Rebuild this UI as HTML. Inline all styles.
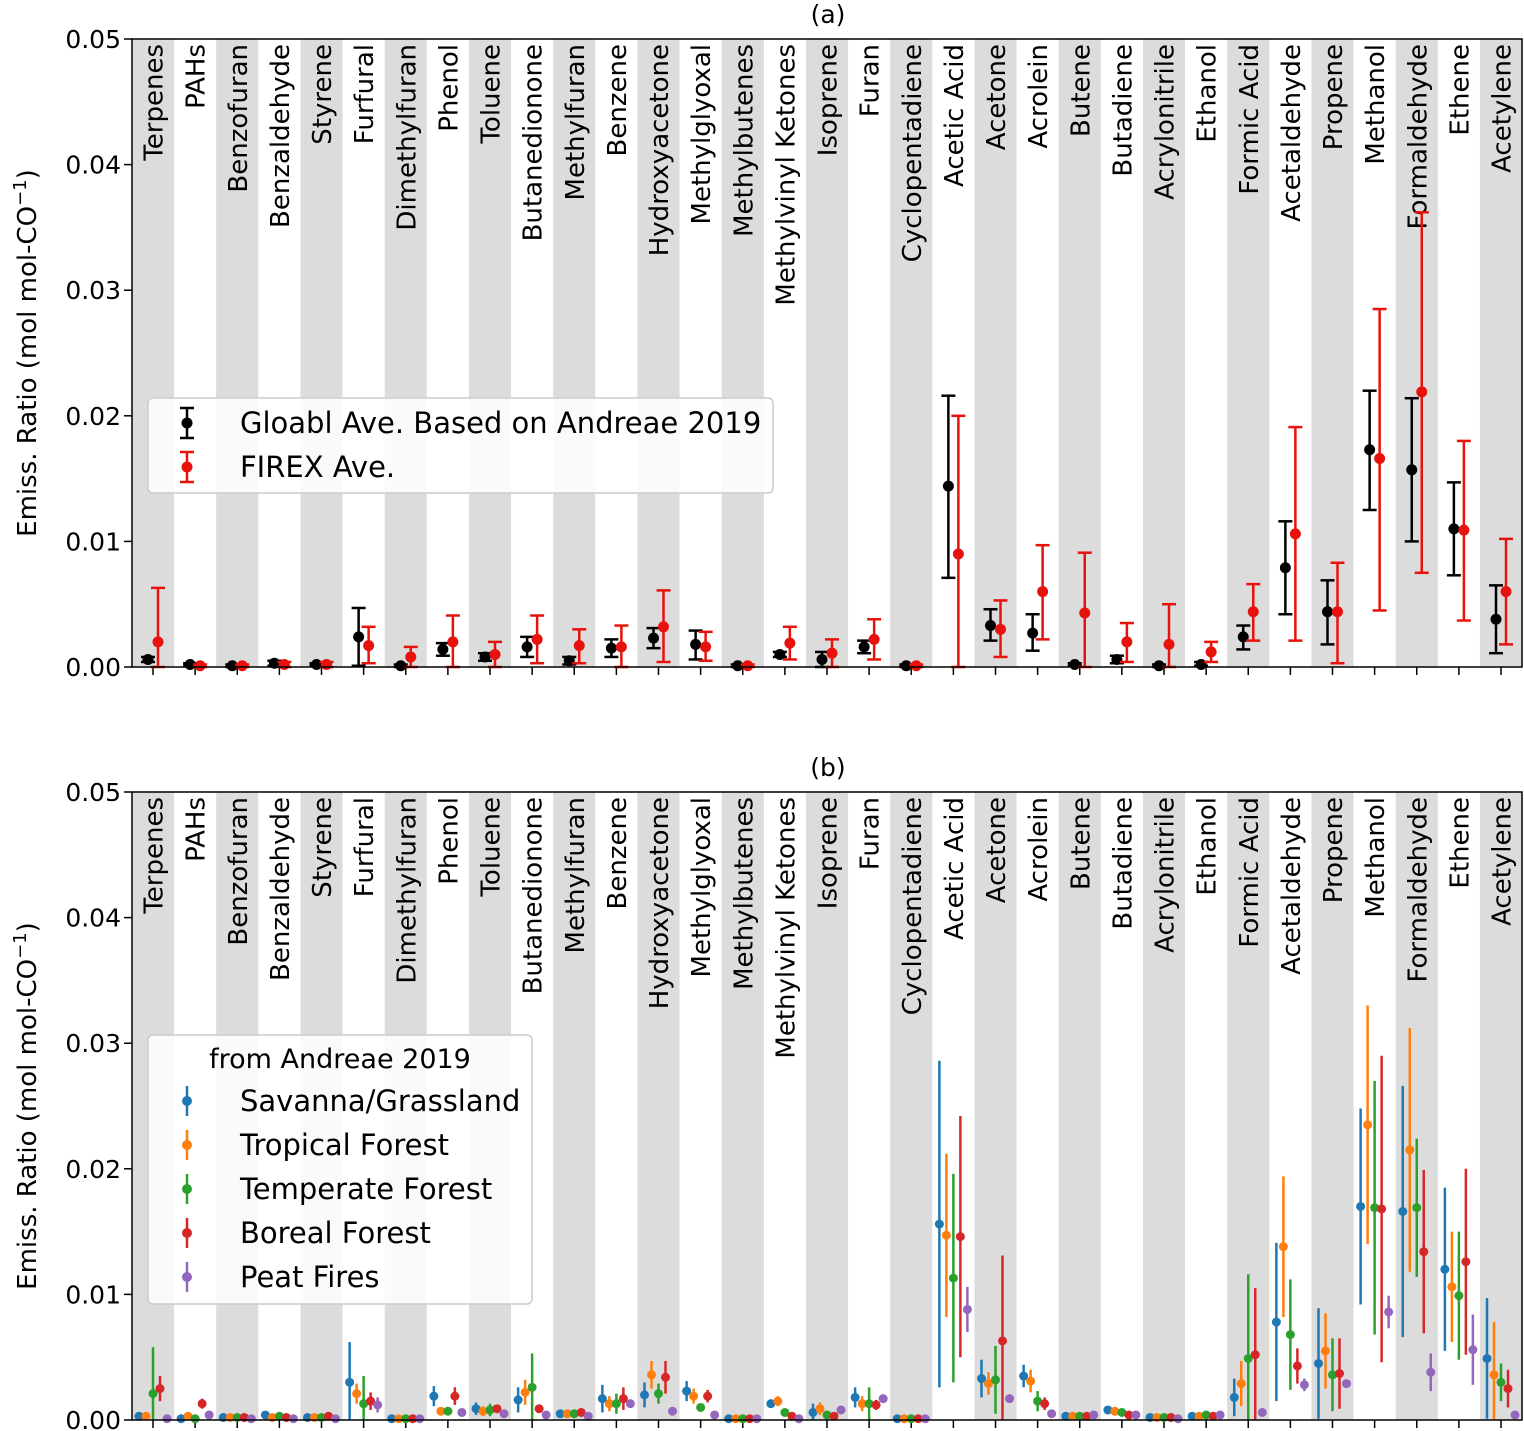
<!DOCTYPE html>
<html><head><meta charset="utf-8"><style>body{margin:0;background:#fff}svg{display:block}text{font-family:"DejaVu Sans","Liberation Sans",sans-serif;fill:#000}</style></head>
<body><svg id="s" width="1524" height="1431" xmlns="http://www.w3.org/2000/svg"></svg>
<script>
const cats=["Terpenes","PAHs","Benzofuran","Benzaldehyde","Styrene","Furfural","Dimethylfuran","Phenol","Toluene","Butanedionone","Methylfuran","Benzene","Hydroxyacetone","Methylglyoxal","Methylbutenes","Methylvinyl Ketones","Isoprene","Furan","Cyclopentadiene","Acetic Acid","Acetone","Acrolein","Butene","Butadiene","Acrylonitrile","Ethanol","Formic Acid","Acetaldehyde","Propene","Methanol","Formaldehyde","Ethene","Acetylene"];
const blk=[[0.6,0.4,0.8],[0.2,0.1,0.3],[0.1,0,0.2],[0.3,0.1,0.5],[0.2,0.1,0.3],[2.4,0.1,4.7],[0.1,0,0.2],[1.4,0.9,1.9],[0.8,0.5,1.1],[1.6,0.8,2.4],[0.5,0.2,0.8],[1.5,0.8,2.2],[2.3,1.5,3.1],[1.8,0.6,2.9],[0.1,0,0.2],[1.0,0.8,1.2],[0.6,0,1.2],[1.6,1.1,2.1],[0.1,0,0.2],[14.4,7.1,21.6],[3.3,2.1,4.6],[2.7,1.3,4.2],[0.2,0.1,0.3],[0.6,0.3,0.9],[0.1,0,0.2],[0.2,0.1,0.4],[2.4,1.4,3.3],[7.9,4.2,11.6],[4.4,1.8,6.9],[17.3,12.5,22],[15.7,10,21.4],[11,7.3,14.7],[3.8,1.1,6.5]];
const red=[[2.0,0,6.3],[0.1,0,0.2],[0.1,0,0.2],[0.2,0,0.4],[0.2,0,0.4],[1.7,0.3,3.2],[0.8,0,1.6],[2.0,0,4.1],[1.0,0,2.0],[2.2,0.3,4.1],[1.7,0.3,3.0],[1.6,0,3.3],[3.2,0.4,6.1],[1.6,0.5,2.8],[0.1,0,0.2],[1.9,0.6,3.2],[1.1,0,2.2],[2.2,0.6,3.8],[0.1,0,0.2],[9.0,0,20],[3.0,0.8,5.3],[6.0,2.2,9.7],[4.3,0,9.1],[2.0,0.4,3.5],[1.8,0,5.0],[1.2,0.4,2.0],[4.4,2.1,6.6],[10.6,2.1,19.1],[4.4,0.3,8.3],[16.6,4.5,28.5],[21.9,7.5,36.2],[10.9,3.7,18],[6.0,1.8,10.2]];
const B=[
[[0.3,0],[0.3,0],[2.1,3.7],[2.5,1.0],[0.1,0]],
[[0.1,0],[0.3,0],[0.1,0],[1.3,0.4],[0.4,0]],
[[0.2,0],[0.2,0],[0.2,0],[0.2,0],[0.1,0]],
[[0.4,0],[0.2,0],[0.3,0],[0.2,0],[0.1,0]],
[[0.2,0],[0.2,0],[0.2,0],[0.3,0],[0.1,0]],
[[3.0,3.2],[2.1,0.8],[1.3,2.2],[1.5,0.7],[1.2,0.6]],
[[0.1,0],[0.1,0],[0.1,0],[0.1,0],[0.1,0]],
[[1.9,0.8],[0.7,0],[0.7,0],[1.9,0.7],[0.6,0]],
[[0.9,0.5],[0.7,0.4],[0.8,0.5],[0.9,0.3],[0.5,0]],
[[1.6,1.0],[2.2,1.0],[2.6,2.7],[0.9,0],[0.4,0]],
[[0.5,0],[0.5,0],[0.5,0],[0.6,0],[0.3,0]],
[[1.7,1.1],[1.3,0.6],[1.3,0.8],[1.7,0.9],[1.3,0]],
[[2.0,1.0],[3.6,1.1],[2.1,0.8],[3.4,1.3],[0.7,0]],
[[2.3,0.8],[1.9,0.6],[1.0,0],[1.9,0.5],[0.4,0]],
[[0.1,0],[0.1,0],[0.1,0],[0.1,0],[0.1,0]],
[[1.3,0.3],[1.5,0.4],[0.6,0],[0.3,0],[0.1,0]],
[[0.6,0.7],[0.9,0.5],[0.4,0],[0.3,0],[0.8,0]],
[[1.8,0.8],[1.3,0.6],[1.3,1.3],[1.2,0.4],[1.7,0]],
[[0.1,0],[0.1,0],[0.1,0],[0.1,0],[0.1,0]],
[[15.6,13],[14.7,6.5],[11.3,8.3],[14.6,9.6],[8.8,1.8]],
[[3.3,1.5],[2.9,0.9],[3.2,2.7],[6.3,6.8],[1.7,0]],
[[3.5,0.9],[3.1,0.9],[1.5,0.8],[1.3,0.5],[0.5,0]],
[[0.3,0],[0.3,0],[0.3,0],[0.3,0],[0.4,0]],
[[0.8,0],[0.7,0],[0.6,0],[0.4,0],[0.4,0]],
[[0.2,0],[0.2,0],[0.2,0],[0.2,0],[0.1,0]],
[[0.3,0],[0.3,0],[0.4,0],[0.3,0],[0.4,0]],
[[1.8,1.5],[2.9,1.8],[4.9,6.7],[5.2,5.3],[0.6,0]],
[[7.8,6.3],[13.8,5.6],[6.8,4.4],[4.3,1.4],[2.8,0.5]],
[[4.5,4.4],[5.5,3.0],[3.6,2.9],[3.7,2.8],[2.9,0]],
[[17.0,7.8],[23.5,9.5],[16.9,10.1],[16.8,12.2],[8.6,1.3]],
[[16.6,10],[21.5,9.7],[16.9,5.5],[13.4,6.5],[3.8,1.5]],
[[12,6.5],[10.6,4.4],[9.9,5.1],[12.6,7.4],[5.6,2.8]],
[[4.9,4.8],[3.6,4.2],[3.0,1.5],[2.5,1.5],[0.4,0]]];
const cols=["#1f77b4","#ff7f0e","#2ca02c","#d62728","#9467bd"];
const L=132,R=1522,sp=42.125,x0=153;
let h='';
function Y(top,v){return top+628-v*12.56;}
function cap(x,y,c,w){return `<line x1="${x-w}" x2="${x+w}" y1="${y}" y2="${y}" stroke="${c}" stroke-width="2.5"/>`;}
function err(x,top,v,lo,hi,c,caps,r){let s=`<line x1="${x}" x2="${x}" y1="${Y(top,lo)}" y2="${Y(top,hi)}" stroke="${c}" stroke-width="2.5"/>`;if(caps)s+=cap(x,Y(top,lo),c,7)+cap(x,Y(top,hi),c,7);s+=`<circle cx="${x}" cy="${Y(top,v)}" r="${r}" fill="${c}"/>`;return s;}
function panel(top,title){
 h+=`<text x="828" y="${top-16}" font-size="25" text-anchor="middle">${title}</text>`;
 cats.forEach((c,i)=>{const x=x0+i*sp;if(i%2==0)h+=`<rect x="${x-sp/2}" y="${top}" width="${sp}" height="628" fill="#dcdcdc"/>`;});
 cats.forEach((c,i)=>{const x=x0+i*sp;h+=`<text transform="translate(${x+9.5},${top+5}) rotate(-90)" font-size="26" text-anchor="end">${c}</text>`;h+=`<line x1="${x}" x2="${x}" y1="${top+628}" y2="${top+636}" stroke="#000" stroke-width="1.5"/>`;});
 for(let k=0;k<=5;k++){const y=top+628-k*125.6;h+=`<line x1="${L-8}" x2="${L}" y1="${y}" y2="${y}" stroke="#000" stroke-width="1.5"/><text x="${L-11}" y="${y+9}" font-size="25" text-anchor="end">${(k/100).toFixed(2)}</text>`;}
 h+=`<text transform="translate(36,${top+314}) rotate(-90)" font-size="26" text-anchor="middle">Emiss. Ratio (mol mol-CO<tspan dy="-10" font-size="18">−1</tspan><tspan dy="10">)</tspan></text>`;
}
panel(39,"(a)");
cats.forEach((c,i)=>{const x=x0+i*sp;const b=blk[i],r=red[i];h+=err(x-5,39,b[0],b[1],b[2],"#000",1,5.5);h+=err(x+5,39,r[0],r[1],r[2],"#e8120c",1,5.5);});
h+=`<rect x="${L}" y="39" width="${R-L}" height="628" fill="none" stroke="#000" stroke-width="1.5"/>`;
h+=`<rect x="148" y="398" width="625" height="95" rx="5" fill="#fff" fill-opacity="0.85" stroke="#ccc" stroke-width="1.5"/>`;
h+=err(187,39,(667-423)/12.56,(667-408)/12.56,(667-438)/12.56,"#000",1,5.5);
h+=err(187,39,(667-467)/12.56,(667-452)/12.56,(667-482)/12.56,"#e8120c",1,5.5);
h+=`<text x="240" y="433" font-size="29">Gloabl Ave. Based on Andreae 2019</text><text x="240" y="477" font-size="29">FIREX Ave.</text>`;
panel(792,"(b)");
const off=[-14,-7,0,7,14];
cats.forEach((c,i)=>{const x=x0+i*sp;B[i].forEach((d,j)=>{const lo=Math.max(0,d[0]-d[1]),hi=d[0]+d[1];h+=err(x+off[j],792,d[0],lo,hi,cols[j],0,4.5);});});
h+=`<rect x="${L}" y="792" width="${R-L}" height="628" fill="none" stroke="#000" stroke-width="1.5"/>`;
h+=`<rect x="148" y="1035" width="384" height="269" rx="5" fill="#fff" fill-opacity="0.85" stroke="#ccc" stroke-width="1.5"/>`;
h+=`<text x="340" y="1068" font-size="27" text-anchor="middle">from Andreae 2019</text>`;
["Savanna/Grassland","Tropical Forest","Temperate Forest","Boreal Forest","Peat Fires"].forEach((n,j)=>{const y=1101+j*44;h+=`<line x1="187" x2="187" y1="${y-15}" y2="${y+15}" stroke="${cols[j]}" stroke-width="2.5"/><circle cx="187" cy="${y}" r="5" fill="${cols[j]}"/><text x="240" y="${y+10}" font-size="29">${n}</text>`;});
document.getElementById('s').innerHTML=h;
</script></body></html>
